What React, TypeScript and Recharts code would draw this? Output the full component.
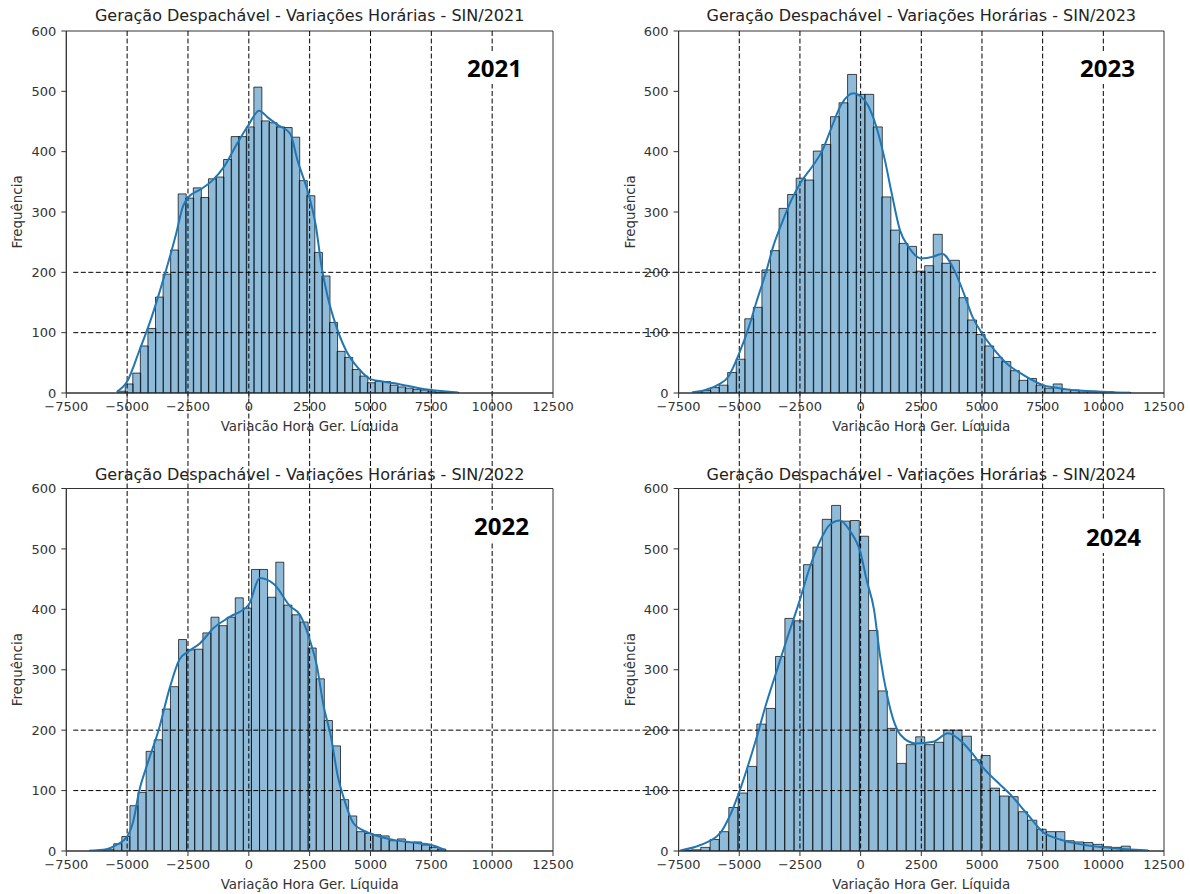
import React from "react";
import {
  ComposedChart,
  Bar,
  Line,
  XAxis,
  YAxis,
  ReferenceLine,
  ReferenceArea,
} from "recharts";

// axis ticks and dashed guide positions (data units)
const xTicks = [-7500, -5000, -2500, 0, 2500, 5000, 7500, 10000, 12500];
const yTicks = [0, 100, 200, 300, 400, 500, 600];
const guideX = [-5000, -2500, 0, 2500, 5000, 7500, 10000];
const guideY = [100, 200];

// 2021 histogram (first bin edge, bin width, counts) and kde curve
const binStart2021 = -5390;
const binWidth2021 = 311;
const counts2021 = [
  3, 15, 33, 78, 107, 159, 197, 237, 330, 323, 340, 324, 355, 358, 387, 425,
  425, 441, 507, 451, 448, 441, 440, 424, 352, 327, 233, 194, 117, 69, 59, 39,
  28, 17, 19, 19, 13, 10, 8, 6, 5, 3, 1, 1, 1,
];
const kdeX2021 = [
  -5430, -5000, -4500, -4000, -3500, -3000, -2700, -2500, -2000, -1500, -1000,
  -500, 0, 420, 800, 1200, 1700, 2000, 2500, 2750, 3000, 3250, 3500, 4000, 4500,
  5000, 5500, 6000, 6500, 7000, 7500, 8000, 8600,
];
const kdeY2021 = [
  2, 19, 70, 125, 190, 262, 310, 324, 337, 352, 376, 412, 445, 468, 456, 444,
  430, 386, 323, 278, 207, 158, 122, 70, 41, 23, 19, 16, 12, 8, 5, 3, 1,
];

// 2022
const binStart2022 = -6550;
const binWidth2022 = 333;
const counts2022 = [
  1, 1, 3, 12, 24, 75, 97, 165, 184, 235, 272, 350, 333, 334, 361, 387, 373,
  387, 419, 402, 466, 466, 420, 478, 407, 391, 379, 336, 285, 216, 174, 85, 58,
  32, 29, 27, 25, 17, 20, 14, 15, 10, 6, 3,
];
const kdeX2022 = [
  -6540, -5850, -5440, -5000, -4750, -4500, -4200, -3700, -3250, -2850, -2500,
  -2000, -1450, -800, 0, 450, 1050, 1700, 2100, 2500, 2800, 3050, 3400, 3650,
  3900, 4300, 4700, 5000, 6000, 6750, 7500, 8050,
];
const kdeY2022 = [
  0.5, 3, 10, 24, 49, 100, 140, 201, 270, 317, 330, 344, 369, 387, 408, 452,
  441, 405, 391, 350, 306, 245, 184, 125, 88, 46, 34, 29, 18, 14, 10, 2,
];

// 2023
const binStart2023 = -6891;
const binWidth2023 = 353;
const counts2023 = [
  2, 4, 9, 13, 34, 56, 123, 142, 204, 236, 306, 329, 356, 353, 401, 412, 458,
  481, 528, 495, 495, 441, 325, 270, 248, 243, 202, 211, 263, 215, 220, 158,
  121, 97, 78, 59, 52, 37, 21, 24, 13, 8, 15, 6, 5, 4, 3, 2, 2, 1, 1,
];
const kdeX2023 = [
  -6950, -6400, -5900, -5450, -5000, -4600, -4300, -3900, -3600, -3250, -2850,
  -2500, -2000, -1600, -1200, -800, -300, 0, 300, 650, 1000, 1280, 1620, 1960,
  2500, 3000, 3350, 3900, 4300, 4600, 5000, 5500, 6100, 6500, 7000, 7500, 8000,
  8500, 9000, 9500, 10000, 10500, 11100,
];
const kdeY2023 = [
  1, 5, 13, 27, 66, 110, 150, 200, 243, 281, 320, 347, 375, 400, 440, 478, 497,
  492, 477, 441, 386, 331, 270, 243, 223, 226, 231, 200, 160, 127, 99, 72, 46,
  35, 23, 13, 9, 6, 4, 3, 2, 1, 0.5,
];

// 2024
const binStart2024 = -7356;
const binWidth2024 = 385;
const counts2024 = [
  1, 2, 6, 19, 32, 72, 96, 140, 210, 236, 322, 385, 381, 474, 503, 549, 572,
  546, 547, 521, 365, 265, 203, 145, 176, 189, 176, 180, 200, 200, 190, 151,
  158, 104, 91, 90, 65, 51, 36, 32, 32, 17, 15, 14, 11, 7, 6, 8, 1, 1,
];
const kdeX2024 = [
  -7430, -6600, -5800, -5370, -5000, -4270, -3880, -3490, -3060, -2500, -2090,
  -1650, -1270, -850, -440, 0, 250, 550, 800, 1100, 1350, 1650, 2270, 3000,
  3600, 4240, 4650, 5000, 5690, 6180, 6890, 7500, 8220, 8800, 10000, 10960,
  11840,
];
const kdeY2024 = [
  1, 10, 29, 60, 98, 190, 245, 294, 348, 416, 470, 515, 540, 547, 530, 493,
  448, 400, 323, 256, 217, 192, 178, 181, 195, 178, 159, 140, 112, 93, 60, 32,
  19, 13, 6, 3, 1,
];

const FONT = '"DejaVu Sans", sans-serif';
const BLUE = "#1f77b4";
const INK = "#333";

// panel boxes: left/right columns, top/bottom rows (svg-local plot edges)
const COLS = {
  left: { left: 0, width: 620, plotLeft: 66.3, plotRight: 553 },
  right: { left: 620, width: 570, plotLeft: 58.6, plotRight: 544 },
};
const ROWS = {
  top: { top: 0, height: 431, plotTop: 31, plotBottom: 393, titleBase: 21 },
  bottom: { top: 431, height: 463, plotTop: 57.5, plotBottom: 420, titleBase: 49 },
};

const fmtTick = (v: number) => (v < 0 ? "\u2212" + Math.abs(v) : String(v));

type PanelProps = {
  title: string;
  year: string;
  binStart: number;
  binWidth: number;
  counts: number[];
  kdeX: number[];
  kdeY: number[];
  col: "left" | "right";
  row: "top" | "bottom";
  tag: [number, number];
};

function Panel(props: PanelProps) {
  const c = COLS[props.col];
  const r = ROWS[props.row];
  const bins = props.counts.map((count, i) => ({
    x: props.binStart + (i + 0.5) * props.binWidth,
    count,
  }));
  const kde = props.kdeX.map((x, i) => ({ x, density: props.kdeY[i] }));
  const margin = {
    left: c.plotLeft - 50,
    right: c.width - c.plotRight,
    top: r.plotTop,
    bottom: r.height - r.plotBottom - 40,
  };

  // vertical guides run on through the gap between the two rows
  const vGuide = (p: any) => {
    const top = Math.min(p.y1, p.y2);
    const bottom = Math.max(p.y1, p.y2);
    return (
      <line
        x1={p.x1}
        x2={p.x2}
        y1={props.row === "top" ? top : 0}
        y2={props.row === "top" ? r.height : bottom}
        stroke="#000"
        strokeWidth={1}
        strokeDasharray="5 2.5"
      />
    );
  };
  // horizontal guides run across into the neighbouring column
  const hGuide = (p: any) => {
    const lo = Math.min(p.x1, p.x2);
    const hi = Math.max(p.x1, p.x2);
    return (
      <line
        x1={props.col === "left" ? lo + 7 : 0}
        x2={props.col === "left" ? c.width : hi - 8}
        y1={p.y1}
        y2={p.y2}
        stroke="#000"
        strokeWidth={1}
        strokeDasharray="5 2.5"
      />
    );
  };

  return (
    <div
      style={{
        position: "absolute",
        left: c.left,
        top: r.top,
        width: c.width,
        height: r.height,
      }}
    >
      <ComposedChart
        width={c.width}
        height={r.height}
        data={bins}
        margin={margin}
        barCategoryGap={0}
        barGap={0}
      >
        <XAxis
          xAxisId="bins"
          type="number"
          dataKey="x"
          domain={[-7500, 12500]}
          allowDataOverflow
          ticks={xTicks}
          interval={0}
          tickFormatter={fmtTick}
          tick={{ fill: INK, fontSize: 13, fontFamily: FONT }}
          tickSize={5}
          tickMargin={4}
          axisLine={{ stroke: INK }}
          tickLine={{ stroke: INK }}
          height={40}
          label={{
            value: "Variação Hora Ger. Líquida",
            position: "insideBottom",
            offset: 2,
            fill: INK,
            fontSize: 13.4,
            fontFamily: FONT,
          }}
        />
        <XAxis
          xAxisId="kde"
          type="number"
          dataKey="x"
          domain={[-7500, 12500]}
          allowDataOverflow
          hide
        />
        <YAxis
          type="number"
          domain={[0, 600]}
          allowDataOverflow
          ticks={yTicks}
          interval={0}
          width={50}
          tick={{ fill: INK, fontSize: 13, fontFamily: FONT }}
          tickSize={5}
          tickMargin={5}
          axisLine={{ stroke: INK }}
          tickLine={{ stroke: INK }}
          label={{
            value: "Frequência",
            angle: -90,
            position: "insideLeft",
            offset: 1.3,
            fill: INK,
            fontSize: 13.4,
            fontFamily: FONT,
            style: { textAnchor: "middle" },
          }}
        />
        <Bar
          xAxisId="bins"
          dataKey="count"
          fill={BLUE}
          fillOpacity={0.5}
          stroke="#000"
          strokeOpacity={0.7}
          strokeWidth={1}
          isAnimationActive={false}
        />
        {guideX.map((v) => (
          <ReferenceLine
            key={"x" + v}
            xAxisId="bins"
            x={v}
            ifOverflow="visible"
            shape={vGuide}
          />
        ))}
        {guideY.map((v) => (
          <ReferenceLine
            key={"y" + v}
            xAxisId="bins"
            y={v}
            ifOverflow="visible"
            shape={hGuide}
          />
        ))}
        <Line
          xAxisId="kde"
          data={kde}
          dataKey="density"
          type="monotone"
          stroke={BLUE}
          strokeWidth={2}
          dot={false}
          activeDot={false}
          isAnimationActive={false}
        />
        <ReferenceArea
          xAxisId="bins"
          x1={-7500}
          x2={12500}
          y1={0}
          y2={600}
          fill="none"
          stroke={INK}
          strokeWidth={1}
          ifOverflow="visible"
        />
      </ComposedChart>
      <div
        style={{
          position: "absolute",
          left: c.plotLeft,
          width: c.plotRight - c.plotLeft,
          top: r.titleBase - 13.5,
          textAlign: "center",
          fontFamily: FONT,
          fontSize: 16,
          lineHeight: "16px",
          color: "#222",
          whiteSpace: "nowrap",
        }}
      >
        {props.title}
      </div>
      <div
        style={{
          position: "absolute",
          left: props.tag[0],
          top: props.tag[1],
          padding: "4px 7px",
          background: "#fff",
          fontFamily: '"Open Sans", sans-serif',
          fontWeight: 700,
          fontSize: 24,
          lineHeight: "24px",
          color: "#000",
        }}
      >
        {props.year}
      </div>
    </div>
  );
}

export default function App() {
  return (
    <div
      style={{
        position: "absolute",
        left: 0,
        top: 0,
        width: 1190,
        height: 894,
        background: "#fff",
        overflow: "hidden",
      }}
    >
      <Panel
        title="Geração Despachável - Variações Horárias - SIN/2021"
        year="2021"
        binStart={binStart2021}
        binWidth={binWidth2021}
        counts={counts2021}
        kdeX={kdeX2021}
        kdeY={kdeY2021}
        col="left"
        row="top"
        tag={[460, 52]}
      />
      <Panel
        title="Geração Despachável - Variações Horárias - SIN/2023"
        year="2023"
        binStart={binStart2023}
        binWidth={binWidth2023}
        counts={counts2023}
        kdeX={kdeX2023}
        kdeY={kdeY2023}
        col="right"
        row="top"
        tag={[453, 52]}
      />
      <Panel
        title="Geração Despachável - Variações Horárias - SIN/2022"
        year="2022"
        binStart={binStart2022}
        binWidth={binWidth2022}
        counts={counts2022}
        kdeX={kdeX2022}
        kdeY={kdeY2022}
        col="left"
        row="bottom"
        tag={[467, 79]}
      />
      <Panel
        title="Geração Despachável - Variações Horárias - SIN/2024"
        year="2024"
        binStart={binStart2024}
        binWidth={binWidth2024}
        counts={counts2024}
        kdeX={kdeX2024}
        kdeY={kdeY2024}
        col="right"
        row="bottom"
        tag={[459, 90]}
      />
    </div>
  );
}
